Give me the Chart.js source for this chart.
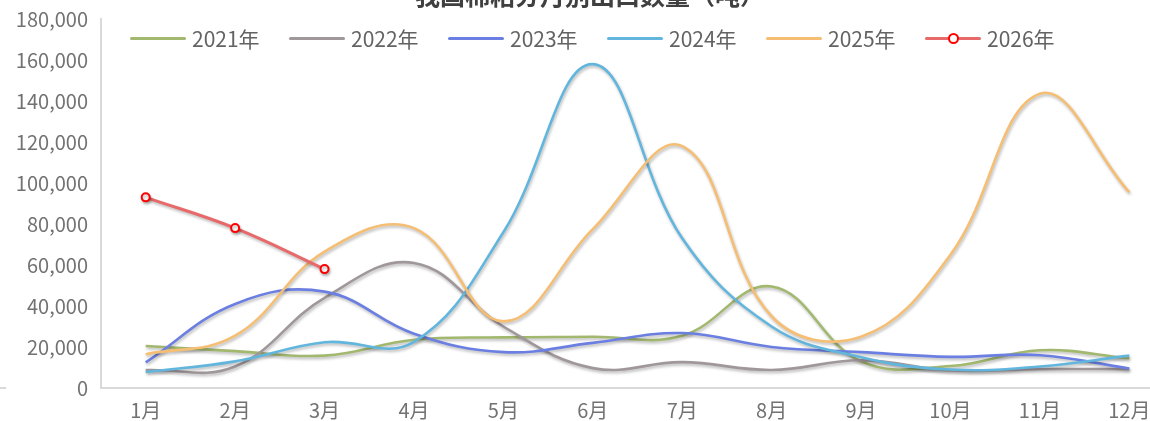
<!DOCTYPE html>
<html>
<head>
<meta charset="utf-8">
<script src="https://cdn.jsdelivr.net/npm/chart.js@4.4.1/dist/chart.umd.min.js"></script>
<style>
  html, body { margin: 0; padding: 0; background: #fff; overflow: hidden; }
  body { width: 1150px; height: 421px; position: relative; }
  #wrap { position: absolute; left: 0; top: -6px; width: 1180px; height: 438px; }
  #title {
    position: absolute; left: 0; width: 1180px; top: -18px; text-align: center;
    font-family: "Noto Sans CJK SC", sans-serif; font-weight: bold; font-size: 25px;
    line-height: 25px; color: #404040;
  }
  #legend {
    position: absolute; left: 130px; top: 24px; height: 28px;
    display: flex; align-items: center; gap: 25px;
    font-family: "Noto Sans CJK SC", sans-serif; font-size: 21px; color: #636363;
  }
  .item { display: flex; align-items: center; width: 134px; white-space: nowrap; }
  .swatch { position: relative; flex: none; width: 56px; height: 3px; border-radius: 2px; margin-right: 6px; }
  .dot {
    position: absolute; left: 23px; top: -4px; width: 7px; height: 7px;
    border: 2px solid #ff0000; border-radius: 50%; background: #fff;
  }
  #stub { position: absolute; left: 0; top: 387px; width: 6px; height: 2px; background: #d9d9d9; }
</style>
</head>
<body>
<div id="wrap"><canvas id="c"></canvas></div>
<div id="title">我国棉粕分月别出口数量（吨）</div>
<div id="legend"></div>
<div id="stub"></div>
<script>
// Monthly export volume by year (tonnes)
const months = ['1月', '2月', '3月', '4月', '5月', '6月', '7月', '8月', '9月', '10月', '11月', '12月'];
const seriesNames = ['2021年', '2022年', '2023年', '2024年', '2025年', '2026年'];
const seriesColors = ['#a2b86f', '#a0979a', '#6b7fe2', '#62b6de', '#f5be72', '#e8696a'];

const v2021 = [20500, 18000, 15800, 23500, 24700, 25000, 25500, 49500, 13000, 10700, 18400, 14500];
const v2022 = [8700, 10500, 44000, 61000, 30000, 9700, 12600, 8800, 13500, 8500, 9200, 9200];
const v2023 = [12500, 41000, 47000, 26500, 17500, 22000, 26800, 20000, 17500, 15200, 16000, 9500];
const v2024 = [7800, 13000, 22300, 22500, 76000, 158000, 73000, 30000, 15000, 9000, 10500, 15800];
const v2025 = [16500, 25500, 66500, 78000, 32500, 77500, 118000, 35000, 25000, 65000, 143500, 95500];
const v2026 = [93000, 78000, 58000];

const yTicks = { min: 0, max: 180000, step: 20000 };

const allValues = [v2021, v2022, v2023, v2024, v2025, v2026];

const datasets = allValues.map((vals, i) => {
  const isCurrent = i === allValues.length - 1;
  return {
    label: seriesNames[i],
    data: vals,
    borderColor: seriesColors[i],
    backgroundColor: seriesColors[i],
    borderWidth: isCurrent ? 3 : 2.6,
    tension: 0.4,
    fill: false,
    order: allValues.length - 1 - i,
    pointRadius: isCurrent ? 4 : 0,
    pointHoverRadius: isCurrent ? 4 : 0,
    pointBorderColor: '#ff0000',
    pointBackgroundColor: '#ffffff',
    pointBorderWidth: 2
  };
});

// soft drop shadow under each line
const lineShadow = {
  id: 'lineShadow',
  beforeDatasetDraw(chart) {
    const ctx = chart.ctx;
    ctx.save();
    ctx.shadowColor = 'rgba(0,0,0,0.28)';
    ctx.shadowBlur = 3;
    ctx.shadowOffsetX = 1;
    ctx.shadowOffsetY = 2;
  },
  afterDatasetDraw(chart) {
    chart.ctx.restore();
  }
};

const tickFont = { family: '"Noto Sans CJK SC", sans-serif', size: 20 };

new Chart(document.getElementById('c'), {
  type: 'line',
  data: { labels: months, datasets },
  options: {
    responsive: true,
    maintainAspectRatio: false,
    animation: false,
    layout: { padding: { top: 18, right: 5, bottom: 0, left: 0 } },
    plugins: { legend: { display: false }, tooltip: { enabled: false }, title: { display: false } },
    scales: {
      x: {
        offset: true,
        grid: { display: false, drawTicks: false },
        border: { display: true, color: '#d9d9d9', width: 2 },
        ticks: { color: '#727272', font: tickFont, padding: 10, maxRotation: 0, autoSkip: false }
      },
      y: {
        min: yTicks.min,
        max: yTicks.max,
        grid: { display: false, drawTicks: false },
        border: { display: true, color: '#d9d9d9', width: 2 },
        ticks: {
          stepSize: yTicks.step,
          color: '#727272',
          font: tickFont,
          padding: 13,
          callback: v => v.toLocaleString('en-US')
        },
        afterFit(scale) { scale.width = 101; }
      }
    }
  },
  plugins: [lineShadow]
});

// legend built from the same series names and colours
const legend = document.getElementById('legend');
seriesNames.forEach((name, i) => {
  const item = document.createElement('div');
  item.className = 'item';
  const sw = document.createElement('span');
  sw.className = 'swatch';
  sw.style.background = seriesColors[i];
  if (i === seriesNames.length - 1) {
    const dot = document.createElement('span');
    dot.className = 'dot';
    sw.appendChild(dot);
  }
  const txt = document.createElement('span');
  txt.textContent = name;
  item.appendChild(sw);
  item.appendChild(txt);
  legend.appendChild(item);
});
</script>
</body>
</html>
